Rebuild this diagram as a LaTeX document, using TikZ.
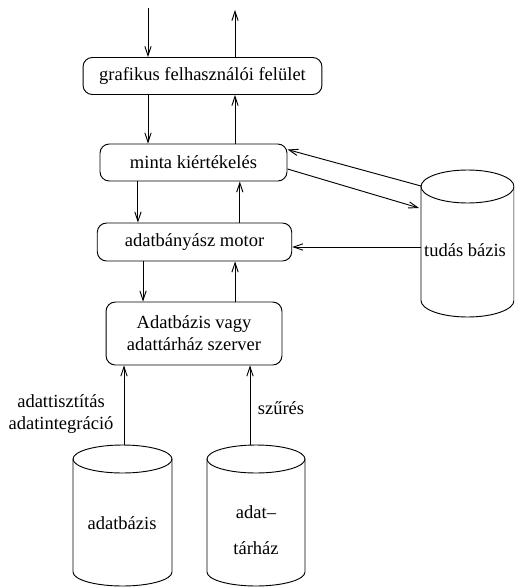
\documentclass[tikz,border=0pt]{standalone}
\usepackage{fontspec}
\setmainfont{Liberation Serif}
\usetikzlibrary{arrows.meta}

\begin{document}
\begin{tikzpicture}[x=0.54pt,y=-0.54pt,line width=0.5pt,
  >={Straight Barb[length=5pt,width=3.4pt]},
  box/.style={draw,rounded corners=5pt,inner sep=0pt,align=center}]
  \clip (0,0) rectangle (514,588);
  % boxes
  \node[box,minimum width=129pt,minimum height=20pt] (gui) at (202.5,76) {grafikus felhasználói felület};
  \node[box,minimum width=101pt,minimum height=20pt] (minta) at (193.5,162.5) {minta kiértékelés};
  \node[box,minimum width=105pt,minimum height=20.5pt] (motor) at (194.5,242) {adatbányász motor};
  \node[box,minimum width=95pt,minimum height=34pt] (server) at (194,333.5) {Adatbázis vagy\\adattárház szerver};
  % cylinders
  \foreach \cx/\cy/\rx/\ry/\by in {122.5/459/49.5/14/572, 256/459/49/14/572, 467.5/186.5/46.5/16.5/300.5}{
    \draw (\cx,\cy) ellipse [x radius=\rx, y radius=\ry];
    \draw (\cx-\rx,\cy) -- (\cx-\rx,\by) arc [start angle=180, end angle=0, x radius=\rx, y radius=\ry] -- (\cx+\rx,\cy);
  }
  \node (adb) at (122,523) {adatbázis};
  \node[align=center] (tarhaz) at (256,530) {adat–\\[7.4pt]tárház};
  \node (tudas) at (465,250) {tudás bázis};
  % labels
  \node[align=center] (tisztit) at (61,414) {adattisztítás\\adatintegráció};
  \node (szures) at (281,408) {szűrés};
  % connectors
  \coordinate (in) at (148,8);
  \coordinate (out) at (235,10);
  \coordinate (adbtop) at (124,445);
  \coordinate (tartop) at (250,445);
  \coordinate (kb1) at (421,186);
  \coordinate (kb2) at (419,208);
  \coordinate (kb3) at (421,247);
  \draw[->] (in) -- (in |- gui.north);
  \draw[->] (out |- gui.north) -- (out);
  \draw[->] (in |- gui.south) -- (in |- minta.north);
  \draw[->] (out |- minta.north) -- (out |- gui.south);
  \draw[->] ([xshift=-30pt]minta.south) -- ([xshift=-30pt]minta.south |- motor.north);
  \draw[->] ([xshift=25pt]minta.south |- motor.north) -- ([xshift=25pt]minta.south);
  \draw[->] ([xshift=-27.8pt]motor.south) -- ([xshift=-27.8pt]motor.south |- server.north);
  \draw[->] ([xshift=21.9pt]motor.south |- server.north) -- ([xshift=21.9pt]motor.south);
  \draw[->] (adbtop) -- (adbtop |- server.south);
  \draw[->] (tartop) -- (tartop |- server.south);
  \draw[->] (kb1) -- ([yshift=7pt]minta.east);
  \draw[->] ([yshift=-3.5pt]minta.east) -- (kb2);
  \draw[->] (kb3) -- (kb3 -| motor.east);
\end{tikzpicture}
\end{document}
